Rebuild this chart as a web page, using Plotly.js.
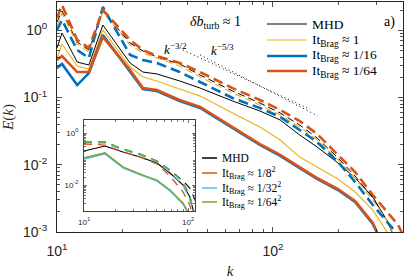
<!DOCTYPE html>
<html><head><meta charset="utf-8">
<script src="https://cdn.plot.ly/plotly-3.0.1.min.js"></script>
<style>html,body{margin:0;padding:0;background:#fff}#chart{width:407px;height:279px}</style>
</head><body><div id="chart"></div>
<script>
// ---- main panel data (wavenumber k, spectra E(k)) ----
const kMain = [10, 10.55, 12.4, 14.05, 16.3, 21.8, 25, 29, 37, 46, 65, 87, 108, 133, 160, 200, 240, 290, 340, 380, 420];
// solid curves
const mhdSolid  = [0.545, 0.910, 0.337, 0.304, 1.197, 0.326, 0.239, 0.224, 0.176, 0.138, 0.0887, 0.0630, 0.0463, 0.0277, 0.0184, 0.0106, 0.00635, 0.00331, 0.00141, 0.00054, 0.000272];
const it1Solid  = [0.387, 0.624, 0.294, 0.265, 1.009, 0.284, 0.202, 0.176, 0.134, 0.105, 0.0588, 0.0364, 0.0233, 0.0130, 0.00926, 0.00614, 0.00393, 0.00212, 0.000966, 0.000383, 0.00016];
const it16Solid = [0.275, 0.315, 0.153, 0.231, 0.850, 0.248, 0.134, 0.125, 0.0887, 0.0698, 0.0352, 0.0197, 0.0135, 0.00895, 0.00614, 0.00421, 0.00279, 0.00132, 0.000440, 0.000175, 0.0000985];
const it64Solid = [0.361, 0.414, 0.239, 0.239, 0.794, 0.256, 0.138, 0.129, 0.0918, 0.0722, 0.0364, 0.0203, 0.0140, 0.00926, 0.00635, 0.00436, 0.00289, 0.00136, 0.000455, 0.00018, 0.0001];
// dashed curves
const mhdDash  = [1.327, 1.933, 0.669, 0.508, 1.933, 0.646, 0.491, 0.400, 0.315, 0.216, 0.125, 0.0828, 0.0588, 0.0390, 0.0250, 0.0126, 0.00680, 0.00320, 0.00141, 0.00054, 0.000272];
const it1Dash  = [1.157, 1.805, 0.624, 0.475, 1.868, 0.604, 0.459, 0.387, 0.294, 0.202, 0.1167, 0.0774, 0.0549, 0.0364, 0.0233, 0.0118, 0.00635, 0.00299, 0.00141, 0.000641, 0.000272];
const it16Dash = [1.009, 1.420, 0.508, 0.387, 2.217, 0.429, 0.361, 0.326, 0.239, 0.170, 0.0984, 0.0698, 0.0513, 0.0329, 0.0218, 0.0110, 0.00554, 0.00252, 0.00141, 0.000902, 0.000455];
const it64Dash = [1.521, 2.375, 0.716, 0.545, 2.000, 0.716, 0.508, 0.414, 0.326, 0.239, 0.138, 0.0918, 0.0652, 0.0447, 0.0287, 0.0140, 0.00780, 0.00355, 0.00198, 0.00127, 0.000641];
// reference slopes
const slope32K = [38.3, 148.6];
const slope32E = [0.508, 0.0665];
const slope53K = [46, 161];
const slope53E = [0.429, 0.0532];

// ---- inset data ----
const kInset = [10, 15.9, 23.7, 34.5, 50.3, 67, 89.6, 104, 117, 125];
const inMhdSolid = [0.203, 0.316, 0.186, 0.1194, 0.0702, 0.0290, 0.0100, 0.00345, 0.000538, 0.000119];
const inMhdDash  = [0.451, 0.451, 0.2425, 0.156, 0.0838, 0.0378, 0.01426, 0.00767, 0.00265, 0.000702];
const in8Dash    = [0.378, 0.345, 0.186, 0.1194, 0.0642, 0.0222, 0.00538, 0.00170, 0.00029, 0.0000767];
const in32Dash   = [0.412, 0.412, 0.222, 0.1426, 0.0767, 0.0316, 0.0100, 0.00265, 0.000538, 0.000156];
const in64Dash   = [0.451, 0.451, 0.2425, 0.156, 0.0838, 0.0378, 0.01304, 0.00412, 0.000702, 0.000186];
const in8Solid   = [0.1093, 0.170, 0.0492, 0.0265, 0.01426, 0.00642, 0.00186, 0.000642, 0.00017];
const in32Solid  = [0.1, 0.156, 0.0451, 0.0243, 0.01426, 0.00588, 0.00186, 0.000642, 0.00017];
const in64Solid  = [0.1093, 0.170, 0.0492, 0.0265, 0.01557, 0.00642, 0.00203, 0.000702, 0.000186];

const mainLegend = ['MHD', 'It<sub>Brag</sub> ≈ 1', 'It<sub>Brag</sub> ≈ 1/16', 'It<sub>Brag</sub> ≈ 1/64'];
const insetLegend = ['MHD', 'It<sub>Brag</sub> ≈ 1/8<sup>2</sup>', 'It<sub>Brag</sub> ≈ 1/32<sup>2</sup>', 'It<sub>Brag</sub> ≈ 1/64<sup>2</sup>'];

const C = {blk:'#000000', yel:'#EDB120', blu:'#0072BD', ora:'#D95319', lblu:'#4DBEEE', grn:'#77AC30'};

function tr(x, y, color, width, dash, xa, ya){
  return {x:x, y:y, type:'scatter', mode:'lines', xaxis:xa||'x', yaxis:ya||'y', showlegend:false, hoverinfo:'skip',
          line:{color:color, width:width, dash:dash||'solid'}};
}
const thinDash = '7px,4px', thickDash = '10px,5px', inDash = '8px,6px';
const data = [
  tr(kMain, mhdSolid, C.blk, 1),
  tr(kMain, it1Solid, C.yel, 1.2),
  tr(kMain, it16Solid, C.blu, 2.6),
  tr(kMain, it64Solid, C.ora, 2.6),
  tr(kMain, mhdDash, C.blk, 1, thinDash),
  tr(kMain, it1Dash, C.yel, 1.2, thinDash),
  tr(kMain, it16Dash, C.blu, 2.6, thickDash),
  tr(kMain, it64Dash, C.ora, 2.6, thickDash),
  tr(slope32K, slope32E, C.blk, 1, '1px,3px'),
  tr(slope53K, slope53E, C.blk, 1, '1px,3px'),
  // inset
  tr(kInset, inMhdSolid, C.blk, 1.1, null, 'x2', 'y2'),
  tr(kInset, in8Solid, C.ora, 1.3, null, 'x2', 'y2'),
  tr(kInset, in32Solid, C.lblu, 1.3, null, 'x2', 'y2'),
  tr(kInset, in64Solid, C.grn, 1.3, null, 'x2', 'y2'),
  tr(kInset, inMhdDash, C.blk, 1.1, inDash, 'x2', 'y2'),
  tr(kInset, in8Dash, C.ora, 1.3, inDash, 'x2', 'y2'),
  tr(kInset, in32Dash, C.lblu, 1.3, inDash, 'x2', 'y2'),
  tr(kInset, in64Dash, C.grn, 1.3, inDash, 'x2', 'y2')
];

// plot-area pixel helpers (plot area 57..403 x 2..232)
const L=57, R=403, T=2, B=232;
const PX = x => (x-L)/(R-L), PY = y => (B-y)/(B-T);

function minorVals(lo, hi){ const v=[]; for(let d=lo; d<hi; d++){ for(let m=2;m<=9;m++){ v.push(m*Math.pow(10,d)); } } return v; }

const axisCol = '#262626';
const sans = 'Liberation Sans, Arial, sans-serif';
const serif = 'Liberation Serif, Times New Roman, serif';

const layout = {
  width:407, height:279,
  margin:{l:L, r:407-R, t:T, b:279-B, pad:0},
  paper_bgcolor:'#ffffff', plot_bgcolor:'#ffffff',
  showlegend:false,
  xaxis:{type:'log', range:[1, 2.602], domain:[0,1], anchor:'y',
    showline:true, mirror:'allticks', linecolor:axisCol, linewidth:1,
    ticks:'inside', ticklen:5, tickcolor:axisCol, tickwidth:0.8,
    tickmode:'array', tickvals:[10,100], ticktext:['10<sup>1</sup>','10<sup>2</sup>'],
    tickfont:{family:sans, size:14, color:axisCol}, ticklabelstandoff:6,
    minor:{ticks:'inside', ticklen:3, tickcolor:axisCol, tickwidth:0.8, tickmode:'array', tickvals:minorVals(1,3)},
    showgrid:false, zeroline:false,
    title:{text:'<i>k</i>', font:{family:serif, size:15, color:axisCol}, standoff:10}},
  yaxis:{type:'log', range:[-3, 0.42], domain:[0,1], anchor:'x',
    showline:true, mirror:'allticks', linecolor:axisCol, linewidth:1,
    ticks:'inside', ticklen:5, tickcolor:axisCol, tickwidth:0.8,
    tickmode:'array', tickvals:[0.001,0.01,0.1,1], ticktext:['10<sup>-3</sup>','10<sup>-2</sup>','10<sup>-1</sup>','10<sup>0</sup>'],
    tickfont:{family:sans, size:14, color:axisCol}, ticklabelstandoff:6,
    minor:{ticks:'inside', ticklen:3, tickcolor:axisCol, tickwidth:0.8, tickmode:'array', tickvals:minorVals(-3,1)},
    showgrid:false, zeroline:false,
    title:{text:'<i>E</i>(<i>k</i>)', font:{family:serif, size:15, color:axisCol}, standoff:5}},
  xaxis2:{type:'log', range:[1, 2.067], domain:[PX(84), PX(195)], anchor:'y2',
    showline:true, mirror:'allticks', linecolor:'#404040', linewidth:1,
    ticks:'inside', ticklen:3, tickcolor:'#404040', tickwidth:0.7,
    tickmode:'array', tickvals:[10,100], ticktext:['10<sup>1</sup>','10<sup>2</sup>'],
    tickfont:{family:sans, size:8, color:axisCol}, ticklabelstandoff:3,
    minor:{ticks:'inside', ticklen:2, tickcolor:'#404040', tickwidth:0.7, tickmode:'array', tickvals:minorVals(1,3)},
    showgrid:false, zeroline:false},
  yaxis2:{type:'log', range:[-3, 0.5], domain:[PY(211), PY(120)], anchor:'x2',
    showline:true, mirror:'allticks', linecolor:'#404040', linewidth:1,
    ticks:'inside', ticklen:3, tickcolor:'#404040', tickwidth:0.7,
    tickmode:'array', tickvals:[0.01,1], ticktext:['10<sup>-2</sup>','10<sup>0</sup>'],
    tickfont:{family:sans, size:8, color:axisCol}, ticklabelstandoff:3,
    minor:{ticks:'inside', ticklen:2, tickcolor:'#404040', tickwidth:0.7, tickmode:'array', tickvals:minorVals(-3,1)},
    showgrid:false, zeroline:false},
  shapes:[], annotations:[]
};

// main legend
const mainLegCols = [C.blk, C.yel, C.blu, C.ora], mainLegW=[1,1.2,2.6,2.6], mainLegY=[24,40,56,71];
mainLegend.forEach((t,i)=>{
  layout.shapes.push({type:'line', xref:'paper', yref:'paper', x0:PX(267), x1:PX(307), y0:PY(mainLegY[i]), y1:PY(mainLegY[i]),
    line:{color:mainLegCols[i], width:mainLegW[i]}});
  layout.annotations.push({xref:'paper', yref:'paper', x:PX(310), y:PY(mainLegY[i]), xanchor:'left', yanchor:'middle',
    text:t, showarrow:false, font:{family:serif, size:13.5, color:'#000'}});
});
// inset legend
const inLegCols = [C.blk, C.ora, C.lblu, C.grn], inLegY=[158,173,188,202];
insetLegend.forEach((t,i)=>{
  layout.shapes.push({type:'line', xref:'paper', yref:'paper', x0:PX(202), x1:PX(217), y0:PY(inLegY[i]), y1:PY(inLegY[i]),
    line:{color:inLegCols[i], width:1.5}});
  layout.annotations.push({xref:'paper', yref:'paper', x:PX(220), y:PY(inLegY[i]), xanchor:'left', yanchor:'middle',
    text:t, showarrow:false, font:{family:serif, size:11.5, color:'#000'}});
});
// text labels
layout.annotations.push(
  {xref:'paper', yref:'paper', x:PX(215), y:PY(22), xanchor:'center', yanchor:'middle', showarrow:false,
   text:'<i>δb</i><sub>turb</sub> ≈ 1', font:{family:serif, size:14, color:'#000'}},
  {xref:'paper', yref:'paper', x:PX(389), y:PY(22), xanchor:'center', yanchor:'middle', showarrow:false,
   text:'a)', font:{family:serif, size:14, color:'#000'}},
  {xref:'paper', yref:'paper', x:PX(175), y:PY(49), xanchor:'center', yanchor:'middle', showarrow:false,
   text:'<i>k</i><sup>−3/2</sup>', font:{family:serif, size:13, color:'#000'}},
  {xref:'paper', yref:'paper', x:PX(222), y:PY(50), xanchor:'center', yanchor:'middle', showarrow:false,
   text:'<i>k</i><sup>−5/3</sup>', font:{family:serif, size:13, color:'#000'}}
);

Plotly.newPlot('chart', data, layout, {staticPlot:true, displayModeBar:false});
</script>
</body></html>
